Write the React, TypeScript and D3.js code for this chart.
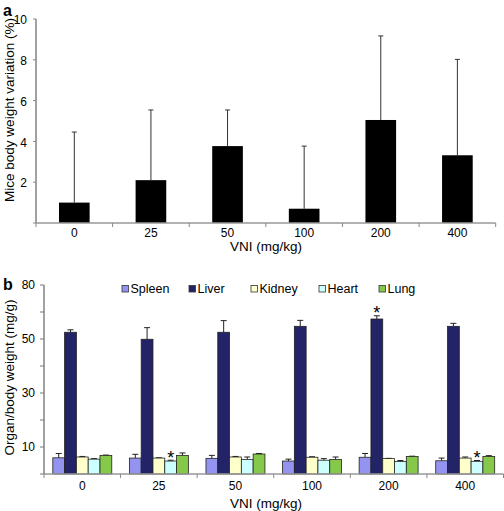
import React from "react";
import * as d3 from "d3";

const doses = ["0", "25", "50", "100", "200", "400"];
const weightVar = [1.0, 2.1, 3.77, 0.7, 5.05, 3.32];
const weightErr = [3.46, 3.44, 1.77, 3.07, 4.12, 4.7];
const aTicks = [0, 2, 4, 6, 8, 10];

const organs = ["Spleen", "Liver", "Kidney", "Heart", "Lung"];
const organColors = ["#9494f0", "#232368", "#ffffcc", "#ccffff", "#86c84a"];
const spleen = [6.0, 5.9, 5.8, 4.8, 6.2, 4.9];
const liver = [52.5, 49.9, 52.5, 54.7, 57.4, 54.7];
const kidney = [6.3, 5.9, 6.3, 6.2, 5.7, 5.9];
const heart = [5.5, 4.8, 5.4, 5.1, 4.6, 4.7];
const lung = [6.9, 6.9, 7.4, 5.4, 6.5, 6.5];
const spleenErr = [1.6, 1.4, 1.1, 0.7, 1.4, 1.0];
const liverErr = [0.9, 4.3, 4.3, 2.2, 1.2, 1.1];
const kidneyErr = [0.2, 0.1, 0.2, 0.2, 0.1, 0.4];
const heartErr = [0.2, 0.3, 0.9, 0.6, 0.4, 0.3];
const lungErr = [0.1, 0.9, 0.2, 0.9, 0.1, 0.3];
const bTickValues = [0, 10, 20, 30, 40, 50, 60, 70];
const bTickLabels = ["", "10", "", "30", "", "50", "", "80"];
const significant = [
  { dose: "25", organ: "Heart" },
  { dose: "200", organ: "Liver" },
  { dose: "400", organ: "Heart" },
];

const FONT = "Liberation Sans, Arial, Helvetica, sans-serif";

export default function App() {
  // ---------- Panel a ----------
  const axA = { left: 36, right: 495.7, top: 19, bottom: 223 };
  const xA = d3
    .scaleBand<string>()
    .domain(doses)
    .range([axA.left, axA.right])
    .paddingInner(0.6)
    .paddingOuter(0.3);
  const yA = d3.scaleLinear().domain([0, 10]).range([axA.bottom, axA.top]);
  const stepA = xA.step();

  // ---------- Panel b ----------
  const axB = { left: 44, right: 503.5, top: 285, bottom: 474 };
  const xB = d3
    .scaleBand<string>()
    .domain(doses)
    .range([axB.left, axB.right])
    .paddingInner(0.23)
    .paddingOuter(0.115);
  const xB1 = d3.scaleBand<string>().domain(organs).range([0, xB.bandwidth()]).padding(0);
  const yB = d3.scaleLinear().domain([0, 70]).range([axB.bottom, axB.top]);
  const color = d3.scaleOrdinal<string, string>().domain(organs).range(organColors);
  const values: Record<string, number[]> = {
    Spleen: spleen,
    Liver: liver,
    Kidney: kidney,
    Heart: heart,
    Lung: lung,
  };
  const errs: Record<string, number[]> = {
    Spleen: spleenErr,
    Liver: liverErr,
    Kidney: kidneyErr,
    Heart: heartErr,
    Lung: lungErr,
  };
  const stepB = xB.step();
  const legendX = [122, 189, 251, 319, 379];
  const legendY = 289;

  return (
    <svg
      width={504}
      height={511}
      style={{ position: "absolute", left: 0, top: 0, background: "#fff" }}
      fontFamily={FONT}
    >
      {/* Panel a */}
      <text x={3} y={16} fontSize={16} fontWeight="bold">a</text>
      {doses.map((d, i) => {
        const x = xA(d)!;
        const cx = x + xA.bandwidth() / 2;
        return (
          <g key={"a" + d}>
            <line x1={cx} x2={cx} y1={yA(weightVar[i])} y2={yA(weightVar[i] + weightErr[i])} stroke="#333" strokeWidth={1} />
            <line x1={cx - 2.5} x2={cx + 2.5} y1={yA(weightVar[i] + weightErr[i])} y2={yA(weightVar[i] + weightErr[i])} stroke="#333" strokeWidth={1} />
            <rect x={x} y={yA(weightVar[i])} width={xA.bandwidth()} height={axA.bottom - yA(weightVar[i])} fill="#000" />
          </g>
        );
      })}
      <line x1={axA.left} x2={axA.left} y1={axA.top} y2={axA.bottom} stroke="#444" strokeWidth={1} />
      {aTicks.map((t) => (
        <g key={"at" + t}>
          <line x1={axA.left - 3} x2={axA.left} y1={yA(t)} y2={yA(t)} stroke="#888" />
          {t > 0 && (
            <text x={axA.left - 9} y={yA(t) + 1} dy="0.35em" fontSize={12} textAnchor="end">{t}</text>
          )}
        </g>
      ))}
      <line x1={axA.left} x2={axA.right} y1={axA.bottom} y2={axA.bottom} stroke="#999" strokeWidth={1.3} />
      {d3.range(doses.length + 1).map((i) => (
        <line key={"axt" + i} x1={axA.left + i * stepA} x2={axA.left + i * stepA} y1={axA.bottom} y2={axA.bottom + 4} stroke="#888" />
      ))}
      {doses.map((d) => (
        <text key={"axl" + d} x={xA(d)! + xA.bandwidth() / 2} y={237} fontSize={12} textAnchor="middle">{d}</text>
      ))}
      <text x={266} y={251} fontSize={13.5} textAnchor="middle">VNI (mg/kg)</text>
      <text transform={`translate(13.5,${(axA.top + axA.bottom) / 2 - 11}) rotate(-90)`} fontSize={13.5} textAnchor="middle">
        Mice body weight variation (%)
      </text>

      {/* Panel b */}
      <text x={3} y={290} fontSize={16} fontWeight="bold">b</text>
      {organs.map((o, i) => (
        <g key={"lg" + o}>
          <rect x={legendX[i]} y={legendY - 3.5} width={6.5} height={6.5} fill={color(o)} stroke="#333" strokeWidth={0.8} />
          <text x={legendX[i] + 8.5} y={legendY} dy="0.35em" fontSize={12.5}>{o}</text>
        </g>
      ))}
      {doses.map((d, gi) => (
        <g key={"bg" + d} transform={`translate(${xB(d)},0)`}>
          {organs.map((o) => {
            const v = values[o][gi];
            const e = errs[o][gi];
            const x = xB1(o)!;
            const w = xB1.bandwidth();
            const cx = x + w / 2;
            return (
              <g key={o}>
                <line x1={cx} x2={cx} y1={yB(v)} y2={yB(v + e)} stroke="#222" strokeWidth={1} />
                <line x1={cx - 3} x2={cx + 3} y1={yB(v + e)} y2={yB(v + e)} stroke="#222" strokeWidth={1} />
                <rect x={x} y={yB(v)} width={w} height={axB.bottom - yB(v)} fill={color(o)} stroke="#222" strokeWidth={0.8} />
              </g>
            );
          })}
          {significant
            .filter((s) => s.dose === d)
            .map((s) => {
              const gi2 = doses.indexOf(s.dose);
              const top = values[s.organ][gi2] + errs[s.organ][gi2];
              return (
                <text key={"sig" + s.organ} x={xB1(s.organ)! + xB1.bandwidth() / 2} y={yB(top) + 3.5} fontSize={18} textAnchor="middle">*</text>
              );
            })}
        </g>
      ))}
      <line x1={axB.left} x2={axB.left} y1={axB.top} y2={axB.bottom} stroke="#444" strokeWidth={1} />
      {bTickValues.map((t, i) => (
        <g key={"bt" + t}>
          <line x1={axB.left - 4} x2={axB.left} y1={yB(t)} y2={yB(t)} stroke="#777" />
          {bTickLabels[i] && (
            <text x={axB.left - 9} y={yB(t)} dy="0.35em" fontSize={12} textAnchor="end">{bTickLabels[i]}</text>
          )}
        </g>
      ))}
      <line x1={axB.left} x2={axB.right} y1={axB.bottom} y2={axB.bottom} stroke="#999" strokeWidth={1.3} />
      {d3.range(doses.length + 1).map((i) => (
        <line key={"bxt" + i} x1={axB.left + i * stepB} x2={axB.left + i * stepB} y1={axB.bottom} y2={axB.bottom + 4} stroke="#888" />
      ))}
      {doses.map((d) => (
        <text key={"bxl" + d} x={xB(d)! + xB.bandwidth() / 2} y={490} fontSize={12} textAnchor="middle">{d}</text>
      ))}
      <text x={266} y={508} fontSize={13.5} textAnchor="middle">VNI (mg/kg)</text>
      <text transform={`translate(13.5,${(axB.top + axB.bottom) / 2 - 2}) rotate(-90)`} fontSize={13.5} textAnchor="middle">
        Organ/body weight (mg/g)
      </text>
    </svg>
  );
}
